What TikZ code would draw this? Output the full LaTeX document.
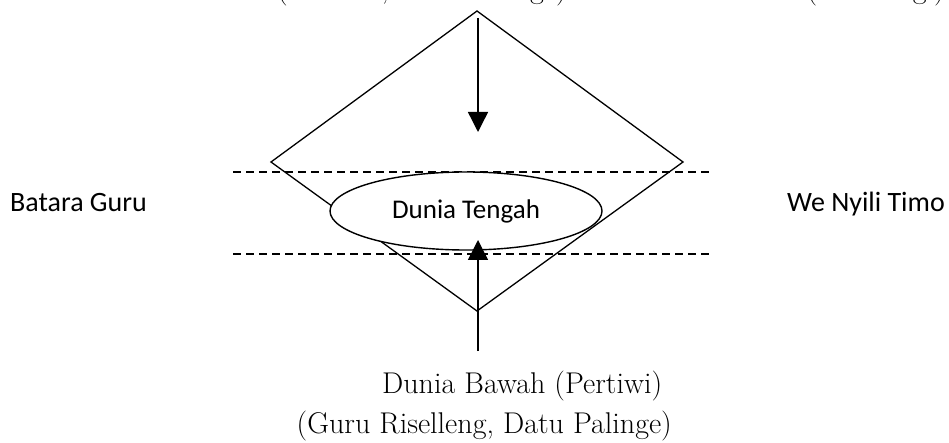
\documentclass[tikz,border=0pt]{standalone}
\usepackage{fontspec}
\newfontfamily\labelfont{Carlito}
\usetikzlibrary{arrows.meta,shapes.geometric}
\begin{document}
\begin{tikzpicture}[x=1pt,y=-1pt,
  edge/.style={line width=1.3pt, line join=miter},
  guide/.style={line width=1.2pt, dash pattern=on 8pt off 5pt},
  flow/.style={line width=1.4pt, -{Triangle[length=20pt,width=20pt]}},
  serifbig/.style={font=\fontsize{30}{36}\selectfont, inner sep=0pt},
  sanslabel/.style={font=\labelfont\fontsize{28}{34}\selectfont, inner sep=0pt},
  world/.style={ellipse, draw, line width=1.4pt, fill=white,
    minimum width=272pt, minimum height=78pt, inner sep=0pt,
    font=\labelfont\fontsize{27}{32}\selectfont}]
\useasboundingbox (0,0) rectangle (949,443);
\clip (0,0) rectangle (949,443);

% outer diamond
\coordinate (apex) at (477,11);
\coordinate (west) at (271,162);
\coordinate (east) at (683,162);
\coordinate (foot) at (477,311);
\draw[edge] (apex) -- (east) -- (foot) -- (west) -- cycle;

% dashed boundaries of the middle world
\coordinate (upperL) at (233,172);
\coordinate (upperR) at (712,172);
\coordinate (lowerL) at (233,254);
\coordinate (lowerR) at (712,254);
\draw[guide] (upperL) -- (upperR);
\draw[guide] (lowerL) -- (lowerR);

% middle world
\node[world] (mid) at (466,211) {Dunia Tengah};

% descent and ascent
\coordinate (downstart) at (478,18);
\coordinate (downtip) at (478,132);
\coordinate (upstart) at (478,351);
\coordinate (uptip) at (478,240);
\draw[flow] (downstart) -- (downtip);
\draw[flow] (upstart) -- (uptip);

% upper world text
\node[serifbig, anchor=base west] (topleft) at (277,-1.5) {(Patotoe, Datu Palinge)};
\node[serifbig, anchor=base east] (topright) at (945,-1.5) {Dunia Atas (Botillangi)};

% side figures
\node[sanslabel, anchor=base west] (guru) at (10,212) {Batara Guru};
\node[sanslabel, anchor=base east] (timo) at (945,212) {We Nyili Timo};

% lower world text
\node[serifbig, anchor=base west] (lower) at (382,393) {Dunia Bawah (Pertiwi)};
\node[serifbig, anchor=base east] (parents) at (672,433) {(Guru Riselleng, Datu Palinge)};
\end{tikzpicture}
\end{document}
